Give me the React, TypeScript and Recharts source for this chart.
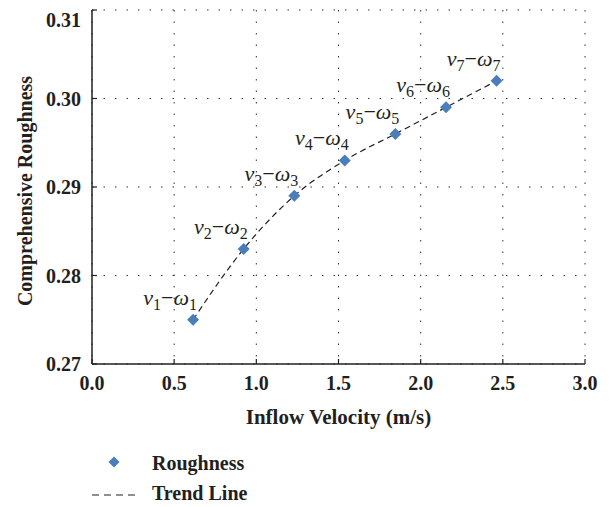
import React from 'react';
import { ComposedChart, Scatter, Line, XAxis, YAxis, CartesianGrid, Legend } from 'recharts';

const velocity = [0.615, 0.923, 1.231, 1.538, 1.846, 2.154, 2.462];
const roughness = [0.275, 0.283, 0.289, 0.293, 0.296, 0.299, 0.302];
const pointIndex = ['1', '2', '3', '4', '5', '6', '7'];
const xTicks = [0, 0.5, 1.0, 1.5, 2.0, 2.5, 3.0];
const yTicks = [0.27, 0.28, 0.29, 0.30, 0.31];
const seriesNames = ['Roughness', 'Trend Line'];
const xTitle = 'Inflow Velocity (m/s)';
const yTitle = 'Comprehensive Roughness';

const data = velocity.map((v, i) => ({ x: v, y: roughness[i], idx: pointIndex[i] }));

const SERIF = "'Liberation Serif', 'DejaVu Serif', serif";
const BLUE = '#4a7ebb';
const INK = '#231f20';

const tickStyle = { fontFamily: SERIF, fontWeight: 700, fontSize: 20, fill: INK };

const DiamondWithLabel = (props: any) => {
  const { cx, cy, payload } = props;
  if (cx == null || cy == null) return null;
  const r = 6;
  return (
    <g>
      <polygon
        points={`${cx},${cy - r} ${cx + r},${cy} ${cx},${cy + r} ${cx - r},${cy}`}
        fill={BLUE}
      />
      <text
        x={cx + 4}
        y={cy - 15}
        textAnchor="end"
        fontFamily={SERIF}
        fontSize={22}
        fill={INK}
      >
        <tspan fontStyle="italic">ν</tspan>
        <tspan fontSize={16} dy={5}>{payload.idx}</tspan>
        <tspan dy={-5}>−</tspan>
        <tspan fontStyle="italic">ω</tspan>
        <tspan fontSize={16} dy={5}>{payload.idx}</tspan>
      </text>
    </g>
  );
};

const XTitle = (props: any) => {
  const vb = props.viewBox || {};
  return (
    <text
      x={vb.x + vb.width / 2}
      y={vb.y + 60}
      textAnchor="middle"
      fontFamily={SERIF}
      fontWeight={700}
      fontSize={21}
      fill={INK}
    >
      {xTitle}
    </text>
  );
};

const YTitle = (props: any) => {
  const vb = props.viewBox || {};
  const x = vb.x + 24;
  const y = vb.y + vb.height / 2 + 4;
  return (
    <text
      x={x}
      y={y}
      transform={`rotate(-90, ${x}, ${y})`}
      textAnchor="middle"
      fontFamily={SERIF}
      fontWeight={700}
      fontSize={20}
      fill={INK}
    >
      {yTitle}
    </text>
  );
};

const LegendContent = () => (
  <svg width={300} height={55} style={{ display: 'block' }}>
    <polygon points="106,4.5 111.5,10 106,15.5 100.5,10" fill={BLUE} />
    <text x={144} y={18} fontFamily={SERIF} fontWeight={700} fontSize={20} fill={INK}>
      {seriesNames[0]}
    </text>
    <line x1={84} x2={129} y1={43} y2={43} stroke={INK} strokeWidth={1.2} strokeDasharray="7 5" />
    <text x={144} y={48} fontFamily={SERIF} fontWeight={700} fontSize={20} fill={INK}>
      {seriesNames[1]}
    </text>
  </svg>
);

export default function App() {
  return (
    <ComposedChart
      width={606}
      height={499}
      data={data}
      margin={{ top: 2, right: 29, bottom: 0, left: 0 }}
    >
      <CartesianGrid stroke="#333" strokeDasharray="1.5 10" strokeWidth={1} />
      <XAxis
        type="number"
        dataKey="x"
        domain={[0, 3]}
        ticks={xTicks}
        tickFormatter={(v: number) => v.toFixed(1)}
        tick={tickStyle}
        tickSize={-5}
        tickMargin={17}
        tickLine={{ stroke: INK, strokeWidth: 1.2 }}
        axisLine={{ stroke: INK, strokeWidth: 1.5 }}
        height={88}
        allowDataOverflow
        label={<XTitle />}
      />
      <YAxis
        type="number"
        domain={[0.27, 0.31]}
        ticks={yTicks}
        tickFormatter={(v: number) => v.toFixed(2)}
        tick={tickStyle}
        tickSize={-5}
        tickMargin={16}
        tickLine={{ stroke: INK, strokeWidth: 1.2 }}
        axisLine={{ stroke: INK, strokeWidth: 1.5 }}
        width={84}
        allowDataOverflow
        label={<YTitle />}
      />
      <Line
        dataKey="y"
        type="monotone"
        stroke={INK}
        strokeWidth={1.2}
        strokeDasharray="6 4"
        dot={false}
        activeDot={false}
        isAnimationActive={false}
        legendType="none"
      />
      <Scatter
        dataKey="y"
        shape={DiamondWithLabel}
        isAnimationActive={false}
      />
      <Legend
        verticalAlign="bottom"
        align="left"
        content={LegendContent}
        wrapperStyle={{ left: 0, top: 444, bottom: 'auto', width: 300, height: 55 }}
      />
    </ComposedChart>
  );
}
